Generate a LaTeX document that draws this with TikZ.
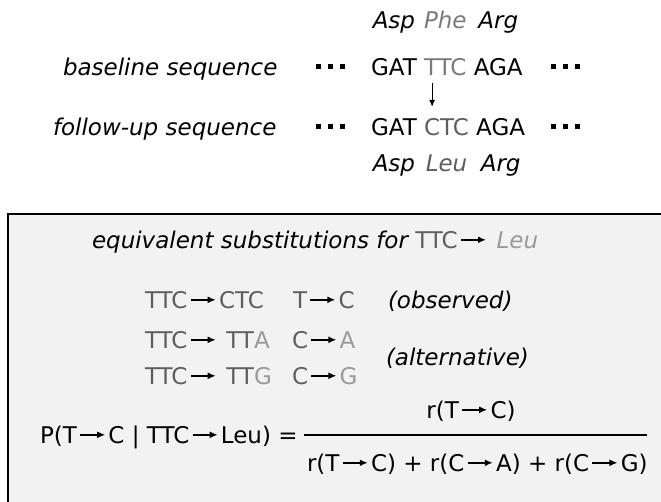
\documentclass[tikz,border=0pt]{standalone}
\usepackage{fontspec}
\setmainfont{DejaVu Sans}
\usetikzlibrary{arrows.meta}
\definecolor{boxfill}{HTML}{F2F2F2}
\definecolor{codonA}{HTML}{7A7A7A}
\definecolor{codonB}{HTML}{5E5E5E}
\definecolor{mutlight}{HTML}{9A9A9A}
% substitution arrow set inline with the text, at mid cap height
\newcommand{\sar}{\hspace{2.5pt}\tikz[baseline=-8.2pt, x=1pt, y=1pt]
  \draw[black, line width=1.6pt, -{Latex[length=8pt,width=7pt]}] (0,0) -- (25,0);\hspace{2.5pt}}
\tikzset{
  txt/.style={anchor=base west, inner sep=0pt, outer sep=0pt, font=\fontsize{23}{26}\selectfont},
  lab/.style={txt, font=\fontsize{23}{26}\selectfont\itshape},
  aa/.style={lab, anchor=base},
  dot/.style={fill=black, draw=none},
}
\begin{document}
\begin{tikzpicture}[x=1pt, y=-1pt]
\useasboundingbox (0,0) rectangle (661,501);

% baseline sequence
\node[lab] (baseL) at (63,75) {baseline sequence};
\node[txt] (gatA) at (371,75) {GAT};
\node[txt, text=codonA] (ttc) at ([xshift=7.3pt]gatA.base east) {TTC};
\node[txt] (agaA) at ([xshift=7.3pt]ttc.base east) {AGA};

% follow-up sequence
\node[lab] (follL) at (53,135) {follow-up sequence};
\node[txt] (gatB) at (371,135) {GAT};
\node[txt, text=codonB] (ctc) at ([xshift=7.3pt]gatB.base east) {CTC};
\node[txt] (agaB) at ([xshift=7.3pt]ctc.base east) {AGA};

% the dots on both sides of each sequence
\foreach \i in {0,1,2} {
  \fill[dot] (316+\i*12,64) rectangle ++(5,5);
  \fill[dot] (551+\i*12,64) rectangle ++(5,5);
  \fill[dot] (316+\i*12,124) rectangle ++(5,5);
  \fill[dot] (551+\i*12,124) rectangle ++(5,5);
}

% amino acids, centred on their codons
\node[aa] (aspA) at (gatA.base |- 0,28) {Asp};
\node[aa, text=codonA] (phe) at (ttc.base |- 0,28) {Phe};
\node[aa] (argA) at (agaA.base |- 0,28) {Arg};
\node[aa] (aspB) at (gatB.base |- 0,171) {Asp};
\node[aa, text=codonB] (leu) at (ctc.base |- 0,171) {Leu};
\node[aa] (argB) at (agaB.base |- 0,171) {Arg};

% mutation arrow
\coordinate (mtop) at ([xshift=8pt,yshift=-8pt]ttc.south west);
\coordinate (mbot) at ([xshift=8pt,yshift=11pt]ctc.north west);
\draw[-{Latex[length=7pt,width=6pt]}, line width=1.2pt] (mtop) -- (mbot);

% panel with the substitutions
\draw[fill=boxfill, line width=1.8pt] (8,214) rectangle (680,520);

\node[lab] (title) at (92,248) {equivalent substitutions for {\upshape\color{codonB}TTC}\sar{} {\color{mutlight}Leu}};

\node[txt, text=codonB] (s1) at (145,308) {TTC\sar CTC};
\node[txt, text=codonB] (n1) at (293,308) {T\sar C};
\node[lab] (obs) at (388,308) {(observed)};

\node[txt, text=codonB] (s2) at (145,348) {TTC\sar{} TT{\color{mutlight}A}};
\node[txt, text=codonB] (n2) at (292,348) {C\sar{\color{mutlight}A}};
\node[lab] (alt) at (386,365) {(alternative)};

\node[txt, text=codonB] (s3) at (145,384) {TTC\sar{} TT{\color{mutlight}G}};
\node[txt, text=codonB] (n3) at (292,384) {C\sar{\color{mutlight}G}};

% probability formula
\node[txt] (lhs) at (40,443) {P(T\sar C | TTC\sar Leu) =};
\node[txt, anchor=base] (num) at (471,418) {r(T\sar C)};
\node[txt] (den) at (307,471) {r(T\sar C) + r(C\sar A) + r(C\sar G)};
\draw[line width=1.5pt] (304,435) -- (647,435);
\end{tikzpicture}
\end{document}
